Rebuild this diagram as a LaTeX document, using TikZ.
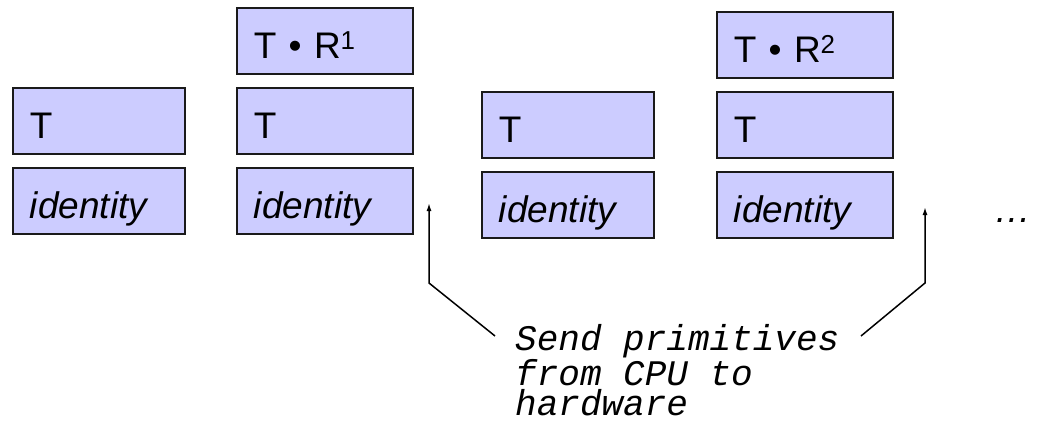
\documentclass[tikz,border=0pt]{standalone}
\usepackage{fontspec}
\setmainfont{Liberation Sans}
\newfontfamily\notefont{Liberation Mono}
\usetikzlibrary{arrows.meta}
\definecolor{boxfill}{HTML}{CCCCFF}
\definecolor{boxline}{HTML}{1A1A1A}
\begin{document}
\begin{tikzpicture}[x=1pt,y=-1pt,
  stackbox/.style={draw=boxline, line width=1.6pt, fill=boxfill, anchor=north west,
    minimum height=66pt, inner xsep=17pt, inner ysep=0pt, text width=138pt, align=left,
    text height=36pt, text depth=0pt, font=\fontsize{37}{40}\selectfont},
  widebox/.style={stackbox, text width=142pt},
  conn/.style={line width=1.5pt, -{Latex[length=8pt,width=5pt]}},
  note/.style={anchor=base west, align=left, inner sep=0pt,
    font=\notefont\itshape\fontsize{36}{30}\selectfont}]
\path[use as bounding box, fill=white] (0,0) rectangle (1038,425);
% column 1
\node[stackbox] (t1) at (12,87) {T};
\node[stackbox] (i1) at (12,167) {\itshape identity};
% column 2
\node[widebox] (r2) at (236,7) {T • R\textsuperscript{1}};
\node[widebox] (t2) at (236,87) {T};
\node[widebox] (i2) at (236,167) {\itshape identity};
% column 3
\node[stackbox] (t3) at (481,91) {T};
\node[stackbox] (i3) at (481,171) {\itshape identity};
% column 4
\node[widebox] (r4) at (716,11) {T • R\textsuperscript{2}};
\node[widebox] (t4) at (716,91) {T};
\node[widebox] (i4) at (716,171) {\itshape identity};
% dots
\node[anchor=base west, inner sep=0pt, font=\itshape\fontsize{37}{40}\selectfont] (dots) at (994,222) {…};
% note (base anchor is the baseline of the last line)
\node[note] (txt) at (515,415) {Send primitives\\from CPU to\\hardware};
\coordinate (s1) at (495,336);
\coordinate (e1) at (429,283);
\coordinate (h1) at (429,203);
\coordinate (s2) at (861,336);
\coordinate (e2) at (925,283);
\coordinate (h2) at (925,207);
\draw[conn] (s1) -- (e1) -- (h1);
\draw[conn] (s2) -- (e2) -- (h2);
\end{tikzpicture}
\end{document}
